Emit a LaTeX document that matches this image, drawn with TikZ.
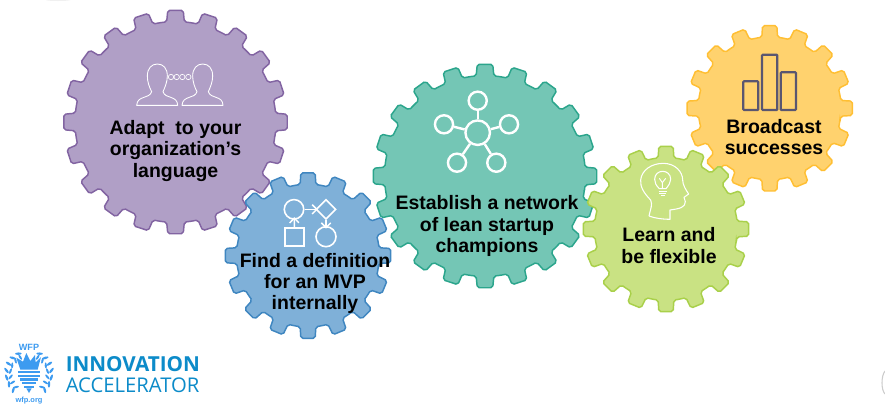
\documentclass[tikz,border=0pt]{standalone}
\usepackage{fontspec}
\setmainfont{Liberation Sans}
\newfontfamily\logofont{Open Sans}
\usetikzlibrary{shapes.geometric,arrows.meta}
\definecolor{pfill}{HTML}{B09FC6}\definecolor{pline}{HTML}{8264A2}
\definecolor{bfill}{HTML}{7FB0D8}\definecolor{bline}{HTML}{3F86C0}
\definecolor{tfill}{HTML}{74C6B5}\definecolor{tline}{HTML}{2BA58C}
\definecolor{yfill}{HTML}{FFD26E}\definecolor{yline}{HTML}{FFBF33}
\definecolor{gfill}{HTML}{C9E283}\definecolor{gline}{HTML}{A9D04A}
\definecolor{barc}{HTML}{5A5670}
\definecolor{logoblue}{HTML}{0C8BC9}
\definecolor{wfpblue}{HTML}{3D9BF0}
\newcommand\gearshape[6]{%
  \pgfmathsetmacro\gs{360/#4}%
  \pgfmathsetmacro\gr{#3-11.5}%
  \pgfmathsetmacro\gt{\gs*0.22}%
  \pgfmathsetmacro\gb{\gs*0.28}%
  \pgfmathsetmacro\gh{\gs*0.5}%
  \draw[fill=#5,draw=#6,line width=1.1pt,rounded corners=1.5pt,shift={(#1,#2)}]
    (\gh:\gr)
    \foreach \gi in {1,...,#4}{
      -- ({\gh+(\gi-1)*\gs+\gh-\gb}:\gr)
      -- ({\gh+(\gi-1)*\gs+\gh-\gt}:#3)
      -- ({\gh+(\gi-1)*\gs+\gh+\gt}:#3)
      -- ({\gh+(\gi-1)*\gs+\gh+\gb}:\gr)
      -- ({\gh+\gi*\gs}:\gr)
    } -- cycle;%
}
\tikzset{
  label text/.style={font=\bfseries\fontsize{14.6}{16}\selectfont,align=center,text=black,inner sep=0pt},
  ico/.style={draw=white,line width=1.2pt},
  thinico/.style={draw=white,line width=.65pt},
  flow/.style={draw=white,line width=1.1pt,shorten >=-2pt,-{Straight Barb[length=3.5pt,width=7pt]}},
  bar/.style={draw=barc,line width=1.6pt,rounded corners=.6pt},
  leaf/.style={fill=wfpblue,draw=none},
}
\newcommand\bust{%
  \draw[thinico,line join=round]
    (230,316) .. controls (232,285) and (268,298) .. (275,275)
    .. controls (268,262) and (262,245) .. (262,228)
    .. controls (262,205) and (275,192) .. (292,192)
    .. controls (310,192) and (322,205) .. (322,228)
    .. controls (322,245) and (315,262) .. (309,275)
    .. controls (316,298) and (352,285) .. (353,316) -- cycle;%
}
\begin{document}
\begin{tikzpicture}[x=.75pt,y=-.75pt]
\useasboundingbox (0,0) rectangle (885,411);
\fill[white] (0,0) rectangle (885,411);
\fill[gray!12] (58,0) ellipse (12 and 1);
\gearshape{175.5}{122}{112}{20}{pfill}{pline}
\gearshape{308}{255.6}{83}{16}{bfill}{bline}
\gearshape{485}{176}{112}{20}{tfill}{tline}
\gearshape{769.7}{108.3}{83}{16}{yfill}{yline}
\gearshape{666}{229}{83}{16}{gfill}{gline}

% purple icon
\begin{scope}[shift={(60,0)},scale=1/3]
  \bust
  \begin{scope}[shift={(136,0)}]\bust\end{scope}
  \foreach \cx in {333,350,367,385}{\draw[thinico,line width=.5pt] (\cx,231) circle (8);}
\end{scope}

% blue icon
\node[circle,ico,minimum size=14.6pt,inner sep=0pt] (bc) at (294,209.3) {};
\node[diamond,ico,minimum size=15pt,inner sep=0pt] (bd) at (326,209.3) {};
\node[rectangle,ico,minimum width=14.5pt,minimum height=13.3pt,inner sep=0pt] (bs) at (294.6,237) {};
\node[circle,ico,minimum size=15pt,inner sep=0pt] (be) at (326,236.7) {};
\draw[flow] (bc) -- (bd);
\draw[flow] (bs) -- (bc);
\draw[flow] (bd) -- (be);

% teal icon
\node[circle,draw=white,line width=1.8pt,minimum size=18.4pt,inner sep=0pt] (hub) at (477.7,132.7) {};
\foreach \nm/\px/\py in {na/477.7/100.7,nb/444/124.3,nc/509/124.3,nd/457/162.7,ne/496.3/162.7}{
  \node[circle,draw=white,line width=1.8pt,minimum size=13.6pt,inner sep=0pt] (\nm) at (\px,\py) {};
  \draw[white,line width=1.8pt] (hub) -- (\nm);
}

% yellow icon
\draw[bar] (743.3,81.3) rectangle (758.3,110);
\draw[bar] (762,54.7) rectangle (777.3,110);
\draw[bar] (780.7,72.3) rectangle (796,110);

% green icon
\begin{scope}[shift={(580,10)},scale=1/3]
  \draw[thinico,line join=round,line width=.8pt]
    (207,618) .. controls (212,595) and (218,585) .. (212,570)
    .. controls (192,550) and (180,530) .. (182,510)
    .. controls (185,480) and (215,460) .. (250,460)
    .. controls (285,460) and (308,485) .. (308,510)
    .. controls (308,525) and (318,540) .. (326,552)
    -- (312,562) -- (316,575)
    .. controls (316,592) and (300,596) .. (270,600)
    -- (270,628) .. controls (250,628) and (225,625) .. (207,618);
  \draw[thinico,line width=.8pt] (238,536) .. controls (228,526) and (224,518) .. (224,508)
    .. controls (224,492) and (236,484) .. (248,484)
    .. controls (260,484) and (272,492) .. (272,508)
    .. controls (272,518) and (266,526) .. (258,536) -- cycle;
  \draw[thinico,line width=.7pt] (238,505) -- (247,518) -- (257,505) (247,518) -- (247,536);
  \draw[thinico,line width=.7pt] (236,543) -- (260,543) (238,550) -- (258,550) (242,556) -- (254,556);
\end{scope}

% texts
\node[label text] (t1) at (175.5,151) {Adapt\ \ to your\\organization’s\\language};
\node[label text] (t2) at (315,283.5) {Find a definition\\for an MVP\\internally};
\node[label text] (t3) at (487,226) {Establish a network\\of lean startup\\champions};
\node[label text] (t4) at (774,137) {Broadcast\\successes};
\node[label text] (t5) at (669,245.5) {Learn and\\be flexible};

% logo emblem
\begin{scope}[shift={(0,342)},scale=1/3]
  \begin{scope}[shift={(87,95)}]
    \foreach \sgn in {-1,1}{
      \begin{scope}[xscale=\sgn]
        \foreach \ang in {-62,-44,-26,-8,10,28,46}{
          \fill[leaf] (\ang:68) ellipse[x radius=10,y radius=3.6,rotate=\ang+60];
          \fill[leaf] (\ang:56) ellipse[x radius=9,y radius=3.2,rotate=\ang+120];
        }
      \end{scope}
    }
    \foreach \yy/\hw in {-8/32,3/32,14/28,25/22,36/14}{
      \fill[wfpblue] (-\hw,\yy) rectangle (\hw,\yy+7);
    }
    \fill[wfpblue] (0,58) -- (-8,44) -- (8,44) -- cycle;
    \fill[wfpblue] (-26,-12) -- (-38,-48) -- (-18,-36) -- (-8,-62) -- (4,-38) -- (18,-56) -- (20,-34) -- (36,-50) -- (26,-12) -- cycle;
  \end{scope}
\end{scope}
\node[font=\bfseries\fontsize{6.8}{8}\selectfont,text=wfpblue,inner sep=0pt] (wfp) at (29,347) {WFP};
\node[font=\bfseries\fontsize{5.6}{7}\selectfont,text=wfpblue,inner sep=0pt] (org) at (29,401) {wfp.org};
\node[font=\logofont\bfseries\fontsize{15.5}{18}\selectfont,text=logoblue,anchor=west,inner sep=0pt] (inn) at (65.5,364) {INNOVATION};
\node[font=\logofont\fontsize{15.2}{16}\selectfont,text=logoblue,anchor=west,inner sep=0pt] (acc) at (65.5,385.7) {ACCELERATOR};

% page edge arc
\draw[gray!40,line width=.8pt] (885,371) .. controls (881,376) and (881,390) .. (885,394);
\end{tikzpicture}
\end{document}
